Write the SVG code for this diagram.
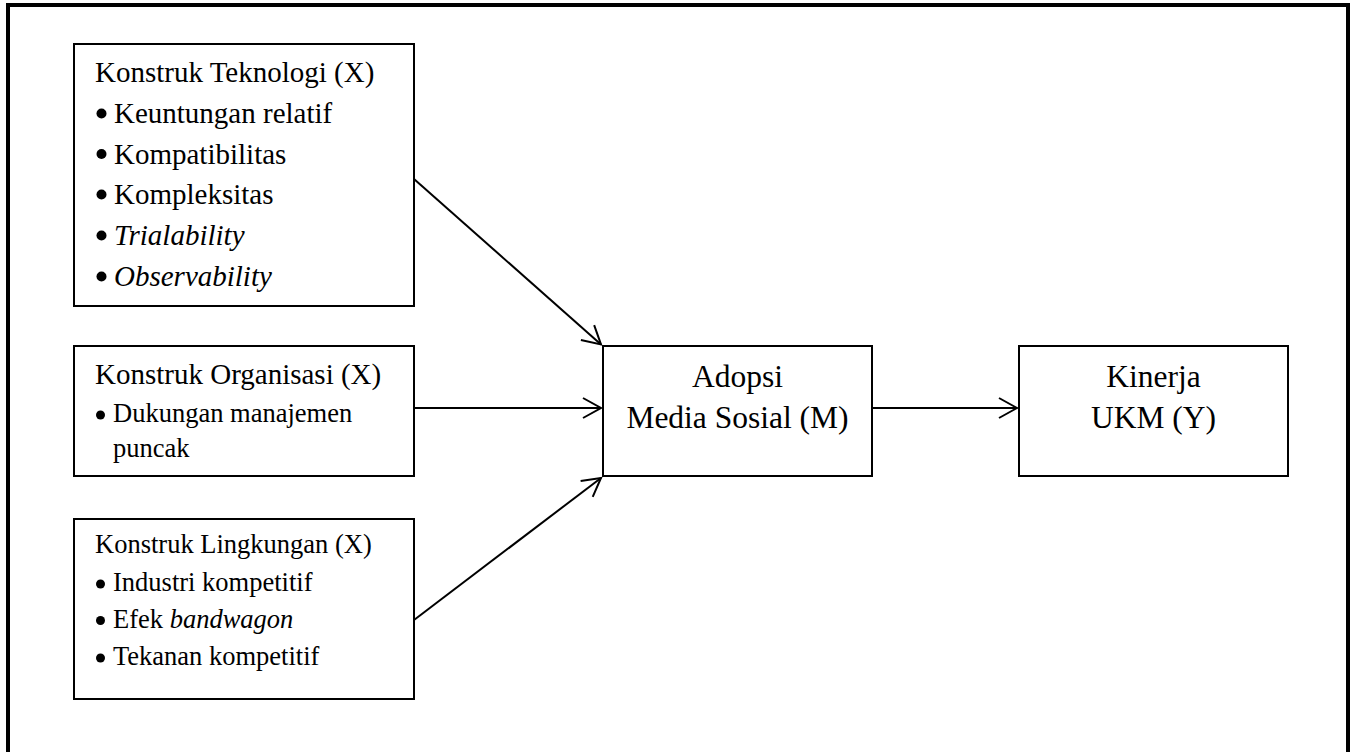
<svg xmlns="http://www.w3.org/2000/svg" width="1355" height="752" viewBox="0 0 1355 752">
  <style>
    .box { fill: #ffffff; stroke: #000000; stroke-width: 2; }
    .frame { fill: none; stroke: #000000; stroke-width: 4; }
    .t { font-family: "Liberation Serif", "Times New Roman", serif; fill: #000000; }
    .lg { font-size: 29px; }
    .md { font-size: 26.5px; }
    .xl { font-size: 31.5px; text-anchor: middle; }
    .dot { fill: #000000; }
    .it { font-style: italic; }
    .conn { fill: none; stroke: #000000; stroke-width: 2; }
  </style>
  <defs>
    <marker id="arrow" markerUnits="userSpaceOnUse" markerWidth="30" markerHeight="30" viewBox="-25 -15 30 30" refX="0" refY="0" orient="auto" overflow="visible">
      <path d="M-18,-10 L0,0 L-18,10" fill="none" stroke="#000000" stroke-width="2"/>
    </marker>
  </defs>

  <rect width="1355" height="752" fill="#ffffff"/>
  <!-- outer frame, bottom edge runs past the page -->
  <rect class="frame" x="8" y="5" width="1340" height="770"/>

  <g id="node-teknologi">
    <rect class="box" x="74" y="44" width="340" height="262"/>
    <text class="t lg" x="95" y="82">Konstruk Teknologi (X)</text>
    <circle class="dot" cx="101.5" cy="113.5" r="5"/>
    <text class="t lg" x="114" y="123">Keuntungan relatif</text>
    <circle class="dot" cx="101.5" cy="154" r="5"/>
    <text class="t lg" x="114" y="163.5">Kompatibilitas</text>
    <circle class="dot" cx="101.5" cy="194.5" r="5"/>
    <text class="t lg" x="114" y="204">Kompleksitas</text>
    <circle class="dot" cx="101.5" cy="235.5" r="5"/>
    <text class="t lg it" x="114" y="245">Trialability</text>
    <circle class="dot" cx="101.5" cy="276.5" r="5"/>
    <text class="t lg it" x="114" y="286">Observability</text>
  </g>

  <g id="node-organisasi">
    <rect class="box" x="74" y="346" width="340" height="130"/>
    <text class="t lg" x="95" y="384">Konstruk Organisasi (X)</text>
    <circle class="dot" cx="100.5" cy="415" r="4.5"/>
    <text class="t md" x="113" y="422">Dukungan manajemen</text>
    <text class="t md" x="113" y="457">puncak</text>
  </g>

  <g id="node-lingkungan">
    <rect class="box" x="74" y="519" width="340" height="180"/>
    <text class="t md" x="95" y="553">Konstruk Lingkungan (X)</text>
    <circle class="dot" cx="100.5" cy="584" r="4.5"/>
    <text class="t md" x="113" y="591">Industri kompetitif</text>
    <circle class="dot" cx="100.5" cy="620.5" r="4.5"/>
    <text class="t md" x="113" y="627.5">Efek <tspan class="it">bandwagon</tspan></text>
    <circle class="dot" cx="100.5" cy="658" r="4.5"/>
    <text class="t md" x="113" y="665">Tekanan kompetitif</text>
  </g>

  <g id="node-adopsi">
    <rect class="box" x="603" y="346" width="269" height="130"/>
    <text class="t xl" x="737.5" y="387">Adopsi</text>
    <text class="t xl" x="737.5" y="428">Media Sosial (M)</text>
  </g>

  <g id="node-kinerja">
    <rect class="box" x="1019" y="346" width="269" height="130"/>
    <text class="t xl" x="1153.5" y="387">Kinerja</text>
    <text class="t xl" x="1153.5" y="428">UKM (Y)</text>
  </g>

  <g id="connectors">
    <line class="conn" x1="414" y1="179" x2="601" y2="344.5" marker-end="url(#arrow)"/>
    <line class="conn" x1="414" y1="408" x2="601" y2="408" marker-end="url(#arrow)"/>
    <line class="conn" x1="414" y1="620" x2="601" y2="478" marker-end="url(#arrow)"/>
    <line class="conn" x1="872" y1="408" x2="1017" y2="408" marker-end="url(#arrow)"/>
  </g>
</svg>
